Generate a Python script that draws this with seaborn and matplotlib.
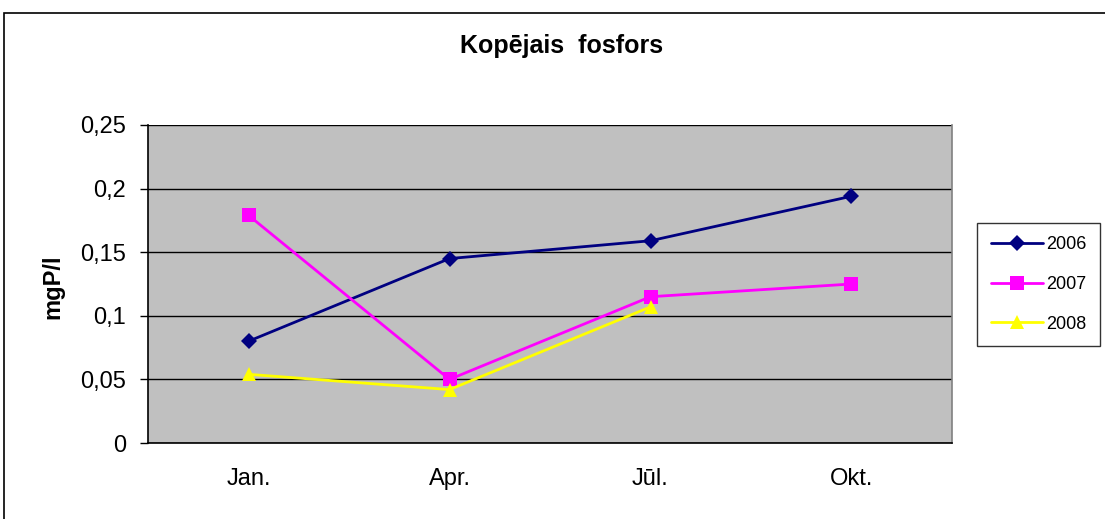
# kopejais fosfors - linijas diagramma
import pandas as pd
import matplotlib.pyplot as plt
import seaborn as sns
from matplotlib.patches import Rectangle

menesi = ["Jan.", "Apr.", "Jūl.", "Okt."]
v2006 = [0.08, 0.145, 0.159, 0.194]
v2007 = [0.179, 0.05, 0.115, 0.125]
v2008 = [0.054, 0.042, 0.107, None]
gadi = ["2006", "2007", "2008"]
y_ticks = [0, 0.05, 0.1, 0.15, 0.2, 0.25]
y_labels = ["0", "0,05", "0,1", "0,15", "0,2", "0,25"]

rows = []
for g, vals in zip(gadi, [v2006, v2007, v2008]):
    for i, (m, v) in enumerate(zip(menesi, vals)):
        if v is not None:
            rows.append({"idx": i, "menesis": m, "gads": g, "vertiba": v})
df = pd.DataFrame(rows)

sns.set_style("white")
plt.rcParams["font.family"] = ["Liberation Sans", "DejaVu Sans"]
for k in ["text.color", "axes.labelcolor", "xtick.color", "ytick.color"]:
    plt.rcParams[k] = "black"

fig = plt.figure(figsize=(11.05, 5.19), dpi=100)
ax = fig.add_axes([148 / 1105, 1 - 443 / 519, 804 / 1105, 318 / 519])
ax.set_facecolor("#C0C0C0")

# ramis ap visu diagrammu
fig.add_artist(Rectangle((4 / 1105, -0.2), 1.2, (519 - 13) / 519 + 0.2,
                         transform=fig.transFigure, fill=False,
                         edgecolor="black", lw=1.2))

krasas = {"2006": "#000080", "2007": "#FF00FF", "2008": "#FFFF00"}
markeri = {"2006": "D", "2007": "s", "2008": "^"}
izmeri = {"2006": 8, "2007": 10.5, "2008": 9.5}

for g in gadi:
    d = df[df["gads"] == g]
    sns.lineplot(data=d, x="idx", y="vertiba", ax=ax, color=krasas[g],
                 marker=markeri[g], markersize=izmeri[g], markeredgewidth=0,
                 lw=2, label=g, zorder=3)

ax.set_xlim(-0.5, 3.5)
ax.set_ylim(0, 0.25)
ax.set_xticks(range(len(menesi)))
ax.set_xticklabels(menesi, fontsize=17)
ax.set_xticks([-0.5, 0.5, 1.5, 2.5, 3.5], minor=True)
ax.tick_params(axis="x", which="major", length=0, pad=18)
ax.tick_params(axis="x", which="minor", length=5, width=1, direction="out", color="black")
ax.set_yticks(y_ticks)
ax.set_yticklabels(y_labels, fontsize=17)
ax.tick_params(axis="y", length=6, width=1, direction="out", color="black", left=True, pad=10)

ax.grid(axis="y", color="black", lw=1)
ax.grid(axis="x", visible=False)
ax.set_axisbelow(True)

for s in ["left", "bottom"]:
    ax.spines[s].set_color("black")
    ax.spines[s].set_linewidth(1.2)
ax.spines["top"].set_visible(False)
ax.spines["right"].set_color("#808080")
ax.spines["right"].set_linewidth(1.2)

ax.set_xlabel("")
ax.set_ylabel("")
fig.text(53 / 1105, 1 - 287 / 519, "mgP/l", rotation=90, ha="center", va="center",
         fontsize=17, fontweight="bold")
fig.text(562 / 1105, 1 - 46 / 519, "Kopējais  fosfors", ha="center", va="center",
         fontsize=18, fontweight="bold")

leg = ax.legend(loc="center left", bbox_to_anchor=(977 / 1105, 1 - 284.5 / 519),
                bbox_transform=fig.transFigure, frameon=True, fancybox=False,
                fontsize=13, handlelength=2.9, labelspacing=1.25,
                borderpad=0.75, handletextpad=0.2, borderaxespad=0)
leg.get_frame().set_edgecolor("black")
leg.get_frame().set_linewidth(1)

plt.savefig("out.png", dpi=100)
plt.close()
